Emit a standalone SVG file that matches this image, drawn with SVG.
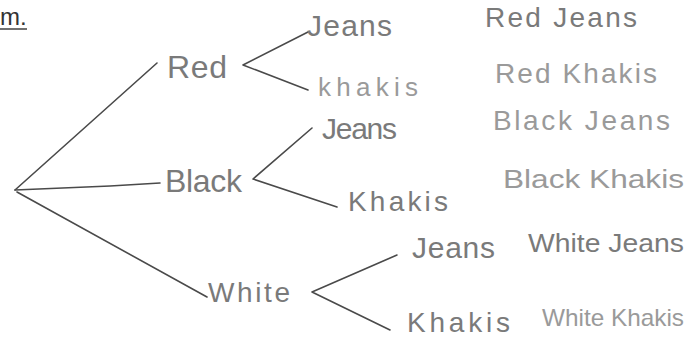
<svg xmlns="http://www.w3.org/2000/svg" width="687" height="338" viewBox="0 0 687 338">
<style>
.t{font-family:"Liberation Sans","DejaVu Sans",sans-serif;fill:#7a7a7a}
.l{font-family:"Liberation Sans","DejaVu Sans",sans-serif;fill:#9a9a9a}
.c{fill:none;stroke:#4a4a4a;stroke-width:1.6;stroke-linecap:round;stroke-linejoin:round}
</style>
<rect width="687" height="338" fill="#ffffff"/>
<g id="title">
<text x="0" y="25" font-family="Liberation Sans, sans-serif" font-size="24" fill="#333">m.</text>
<line x1="0" y1="29" x2="27" y2="29" stroke="#333" stroke-width="1.4"/>
</g>
<g id="connectors">
<path class="c" d="M15 190 L157 63"/>
<path class="c" d="M15 190 L110 186 L160 183"/>
<path class="c" d="M17 192 L207 297"/>
<path class="c" d="M308 32 L243 65 L308 90"/>
<path class="c" d="M312 128 L253 179 L337 207"/>
<path class="c" d="M397 255 L312 292 L390 330"/>
</g>
<g id="red"><text class="t" x="167" y="78" font-size="32" textLength="60" lengthAdjust="spacing">Red</text></g>
<g id="black"><text class="t" x="165" y="192" font-size="32" textLength="77" lengthAdjust="spacing">Black</text></g>
<g id="white"><text class="t" x="208" y="302" font-size="28" textLength="82" lengthAdjust="spacing">White</text></g>
<g id="red-jeans"><text class="t" x="307" y="36" font-size="30" textLength="85" lengthAdjust="spacing">Jeans</text></g>
<g id="red-khakis"><text class="l" x="318" y="96" font-size="26" textLength="100" lengthAdjust="spacing">khakis</text></g>
<g id="black-jeans"><text class="t" x="322" y="139" font-size="30" textLength="75" lengthAdjust="spacing">Jeans</text></g>
<g id="black-khakis"><text class="t" x="348" y="211" font-size="28" textLength="100" lengthAdjust="spacing">Khakis</text></g>
<g id="white-jeans"><text class="t" x="412" y="258" font-size="30" textLength="83" lengthAdjust="spacing">Jeans</text></g>
<g id="white-khakis"><text class="t" x="407" y="332" font-size="28" textLength="103" lengthAdjust="spacing">Khakis</text></g>
<g id="outcomes">
<text class="t" x="485" y="27" font-size="28" textLength="152" lengthAdjust="spacing">Red Jeans</text>
<text class="l" x="495" y="83" font-size="28" textLength="162" lengthAdjust="spacing">Red Khakis</text>
<text class="l" x="493" y="130" font-size="28" textLength="177" lengthAdjust="spacing">Black Jeans</text>
<text class="l" x="503" y="188" font-size="26" textLength="181" lengthAdjust="spacingAndGlyphs">Black Khakis</text>
<text class="t" x="528" y="252" font-size="26" textLength="156" lengthAdjust="spacingAndGlyphs">White Jeans</text>
<text class="l" x="542" y="326" font-size="24" textLength="142" lengthAdjust="spacingAndGlyphs">White Khakis</text>
</g>
</svg>
